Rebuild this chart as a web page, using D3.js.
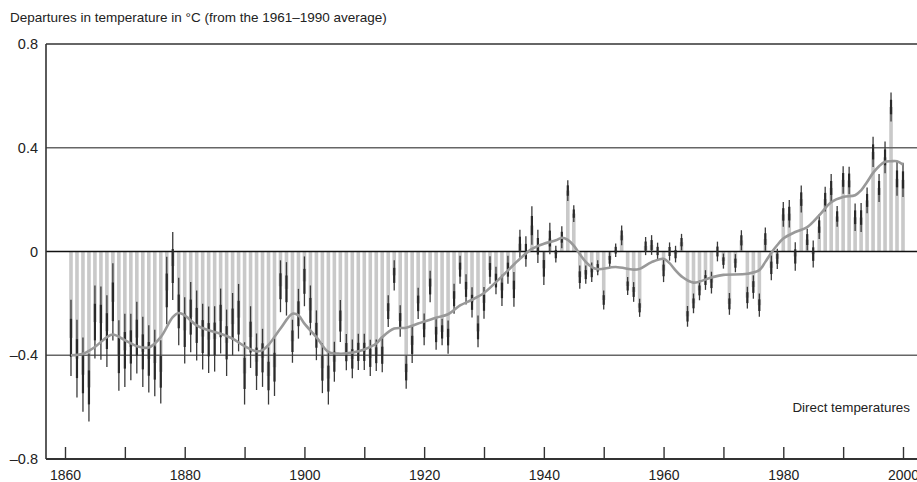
<!DOCTYPE html>
<html>
<head>
<meta charset="utf-8">
<script src="https://cdn.jsdelivr.net/npm/d3@7"></script>
<style>
  body { margin: 0; background: #fff; }
  text { font-family: "Liberation Sans Narrow", "Arial Narrow", "Liberation Sans", sans-serif; fill: #222; }
</style>
</head>
<body>
<script>
// annual global anomalies (degC vs 1961-1990), 1861..2000
var firstYear = 1861;
var anomaly = [
  -0.333, -0.413, -0.475, -0.524, -0.272, -0.276, -0.307, -0.194, -0.401,          // 1861-1869
  -0.381, -0.368, -0.332, -0.387, -0.414, -0.430, -0.464, -0.150, -0.056, -0.231,  // 1870s
  -0.304, -0.253, -0.285, -0.328, -0.340, -0.337, -0.268, -0.352, -0.280, -0.255,  // 1880s
  -0.470, -0.330, -0.425, -0.410, -0.480, -0.446, -0.134, -0.144, -0.346, -0.240,  // 1890s
  -0.115, -0.227, -0.323, -0.450, -0.490, -0.425, -0.268, -0.388, -0.414, -0.387,  // 1900s
  -0.387, -0.410, -0.400, -0.400, -0.230, -0.092, -0.268, -0.465, -0.360, -0.200,  // 1910s
  -0.300, -0.135, -0.320, -0.310, -0.330, -0.182, -0.070, -0.146, -0.196, -0.308,  // 1920s
  -0.198, -0.071, -0.112, -0.150, -0.070, -0.146,  0.030,  0.000,  0.100,  0.020,  // 1930s
  -0.065,  0.050, -0.010,  0.055,  0.235,  0.146, -0.099, -0.089, -0.080, -0.063,  // 1940s
  -0.187, -0.032,  0.005,  0.062, -0.133, -0.156, -0.217,  0.021,  0.025,  0.002,  // 1950s
  -0.073,  0.000, -0.010,  0.036, -0.250, -0.200, -0.150, -0.110, -0.120,  0.000,  // 1960s
  -0.037, -0.202, -0.045,  0.043, -0.178, -0.137, -0.207,  0.048, -0.063, -0.028,  // 1970s
   0.143,  0.146, -0.019,  0.202,  0.046, -0.010,  0.096,  0.202,  0.245,  0.135,  // 1980s
   0.276,  0.274,  0.132,  0.131,  0.197,  0.384,  0.245,  0.363,  0.557,  0.280,  // 1990s
   0.276                                                                           // 2000
];
// half width of the uncertainty bars
var uncertainty = [
  0.147, 0.150, 0.143, 0.131, 0.141, 0.141, 0.138, 0.149, 0.136,
  0.141, 0.128, 0.138, 0.135, 0.130, 0.128, 0.122, 0.130, 0.131, 0.130,
  0.128, 0.135, 0.135, 0.127, 0.128, 0.126, 0.125, 0.128, 0.120, 0.130,
  0.120, 0.119, 0.109, 0.112, 0.110, 0.111, 0.100, 0.103, 0.083, 0.096,
  0.096, 0.096, 0.096, 0.096, 0.100, 0.077, 0.081, 0.070, 0.075, 0.070,
  0.070, 0.070, 0.061, 0.066, 0.061, 0.058, 0.061, 0.064, 0.070, 0.060,
  0.061, 0.061, 0.059, 0.051, 0.064, 0.058, 0.054, 0.058, 0.058, 0.061,
  0.061, 0.053, 0.053, 0.060, 0.054, 0.067, 0.054, 0.059, 0.074, 0.064,
  0.064, 0.061, 0.032, 0.042, 0.040, 0.032, 0.045, 0.035, 0.038, 0.029,
  0.037, 0.030, 0.026, 0.038, 0.035, 0.038, 0.035, 0.035, 0.038, 0.032,
  0.045, 0.035, 0.032, 0.032, 0.040, 0.038, 0.038, 0.038, 0.042, 0.038,
  0.029, 0.042, 0.035, 0.039, 0.042, 0.045, 0.045, 0.045, 0.048, 0.039,
  0.048, 0.053, 0.055, 0.052, 0.042, 0.052, 0.048, 0.048, 0.054, 0.040,
  0.053, 0.053, 0.053, 0.056, 0.050, 0.058, 0.054, 0.061, 0.056, 0.065,
  0.066
];
// the smoothed curve, read at these years
var smoothYears = [1861, 1863, 1865, 1867, 1868, 1870, 1872, 1874, 1876, 1878, 1879, 1880, 1882, 1884, 1886, 1888,
  1890, 1892, 1893, 1894, 1896, 1898, 1899, 1900, 1902, 1904, 1906, 1908, 1910, 1912, 1913, 1915, 1917, 1919,
  1922, 1924, 1926, 1928, 1930, 1932, 1934, 1936, 1938, 1940, 1942, 1943, 1944, 1945, 1946, 1947, 1948, 1949,
  1952, 1955, 1956, 1958, 1960, 1961, 1962, 1963, 1965, 1968, 1970, 1974, 1976, 1977, 1978, 1979, 1980, 1982,
  1984, 1986, 1988, 1990, 1992, 1993, 1994, 1995, 1996, 1997, 1998, 1999, 2000];
var smoothValues = [-0.40, -0.394, -0.368, -0.33, -0.32, -0.342, -0.365, -0.37, -0.33, -0.253, -0.237, -0.246, -0.285, -0.304, -0.317, -0.336,
  -0.365, -0.385, -0.38, -0.36, -0.297, -0.24, -0.246, -0.278, -0.33, -0.387, -0.394, -0.39, -0.378, -0.355, -0.33, -0.297, -0.294, -0.278,
  -0.255, -0.242, -0.208, -0.186, -0.16, -0.118, -0.073, -0.028, 0.01, 0.03, 0.043, 0.053, 0.045, 0.023, -0.01, -0.04, -0.06, -0.068,
  -0.06, -0.07, -0.067, -0.041, -0.028, -0.045, -0.073, -0.096, -0.12, -0.10, -0.09, -0.086, -0.072, -0.04, -0.005, 0.025, 0.05, 0.075,
  0.094, 0.139, 0.19, 0.21, 0.217, 0.236, 0.268, 0.303, 0.329, 0.346, 0.348, 0.348, 0.335];

var yTicks = [0.8, 0.4, 0, -0.4, -0.8];
var xTicks = [1860, 1870, 1880, 1890, 1900, 1910, 1920, 1930, 1940, 1950, 1960, 1970, 1980, 1990, 2000];
var titleText = "Departures in temperature in \u00B0C (from the 1961\u20131990 average)";
var noteText = "Direct temperatures";

var width = 917, height = 482;
var plotLeft = 46, plotTop = 44, plotBottom = 459;

var svg = d3.select("body").append("svg")
    .attr("width", width)
    .attr("height", height);

var x = d3.scaleLinear().domain([1860, 2000]).range([65, 903]);
var y = d3.scaleLinear().domain([-0.8, 0.8]).range([plotBottom, plotTop]);

var data = anomaly.map(function (v, i) {
    return { year: firstYear + i, value: v, err: uncertainty[i] };
});

// bars from zero
svg.append("g")
    .selectAll("rect")
    .data(data)
    .enter().append("rect")
    .attr("x", function (d) { return x(d.year) - 1.8; })
    .attr("width", 3.6)
    .attr("y", function (d) { return y(Math.max(0, d.value)); })
    .attr("height", function (d) { return Math.abs(y(d.value) - y(0)); })
    .attr("fill", "#c9c9c9");

// horizontal rules
var fmt = function (v) { return v === 0 ? "0" : d3.format(".1f")(v).replace("-", "\u2013").replace("\u2212", "\u2013"); };
svg.append("g")
    .selectAll("line")
    .data(yTicks.slice(0, 4))
    .enter().append("line")
    .attr("x1", plotLeft)
    .attr("x2", width)
    .attr("y1", function (d) { return y(d); })
    .attr("y2", function (d) { return y(d); })
    .attr("stroke", function (d) { return d === 0 ? "#111" : (d === 0.8 ? "#333" : "#666"); })
    .attr("stroke-width", function (d) { return d === 0 ? 1.3 : 1.6; });

// uncertainty bars
var errs = svg.append("g");
errs.selectAll("line.whisker")
    .data(data)
    .enter().append("line")
    .attr("class", "whisker")
    .attr("x1", function (d) { return x(d.year); })
    .attr("x2", function (d) { return x(d.year); })
    .attr("y1", function (d) { return y(d.value + d.err); })
    .attr("y2", function (d) { return y(d.value - d.err); })
    .attr("stroke", "#3a3a3a")
    .attr("stroke-width", 1.3);
errs.selectAll("line.core")
    .data(data)
    .enter().append("line")
    .attr("class", "core")
    .attr("x1", function (d) { return x(d.year); })
    .attr("x2", function (d) { return x(d.year); })
    .attr("y1", function (d) { return y(d.value + d.err * 0.5); })
    .attr("y2", function (d) { return y(d.value - d.err * 0.5); })
    .attr("stroke", "#2a2a2a")
    .attr("stroke-width", 2.2);

// smoothed curve
var line = d3.line()
    .x(function (d, i) { return x(smoothYears[i]); })
    .y(function (d) { return y(d); })
    .curve(d3.curveCatmullRom);
svg.append("path")
    .datum(smoothValues)
    .attr("d", line)
    .attr("fill", "none")
    .attr("stroke", "#999")
    .attr("stroke-width", 2.6);

// left axis line and labels
svg.append("line")
    .attr("x1", plotLeft).attr("x2", plotLeft)
    .attr("y1", plotTop).attr("y2", plotBottom)
    .attr("stroke", "#333")
    .attr("stroke-width", 1.6);
svg.append("g")
    .selectAll("text")
    .data(yTicks)
    .enter().append("text")
    .attr("x", 38)
    .attr("y", function (d) { return y(d); })
    .attr("dy", "0.36em")
    .attr("text-anchor", "end")
    .style("font-size", "14.5px")
    .text(fmt);

// bottom axis, ticks pointing up
var xAxis = d3.axisBottom(x)
    .tickValues(xTicks)
    .tickSizeInner(-12)
    .tickSizeOuter(0)
    .tickPadding(11)
    .tickFormat(function (d) { return d % 20 === 0 ? d : ""; });
var gx = svg.append("g")
    .attr("transform", "translate(0," + plotBottom + ")")
    .call(xAxis);
gx.select(".domain").remove();
gx.selectAll(".tick line").attr("stroke", "#333").attr("stroke-width", 1.4);
gx.selectAll(".tick text")
    .style("font-size", "14px")
    .style("font-family", null)
    .attr("fill", "#222");
svg.append("line")
    .attr("x1", plotLeft).attr("x2", width)
    .attr("y1", plotBottom).attr("y2", plotBottom)
    .attr("stroke", "#333")
    .attr("stroke-width", 1.8);

// title and note
svg.append("text")
    .attr("x", 10)
    .attr("y", 22)
    .style("font-size", "13.5px")
    .text(titleText);
svg.append("text")
    .attr("x", 910)
    .attr("y", 412)
    .attr("text-anchor", "end")
    .style("font-size", "13.4px")
    .text(noteText);
</script>
</body>
</html>
